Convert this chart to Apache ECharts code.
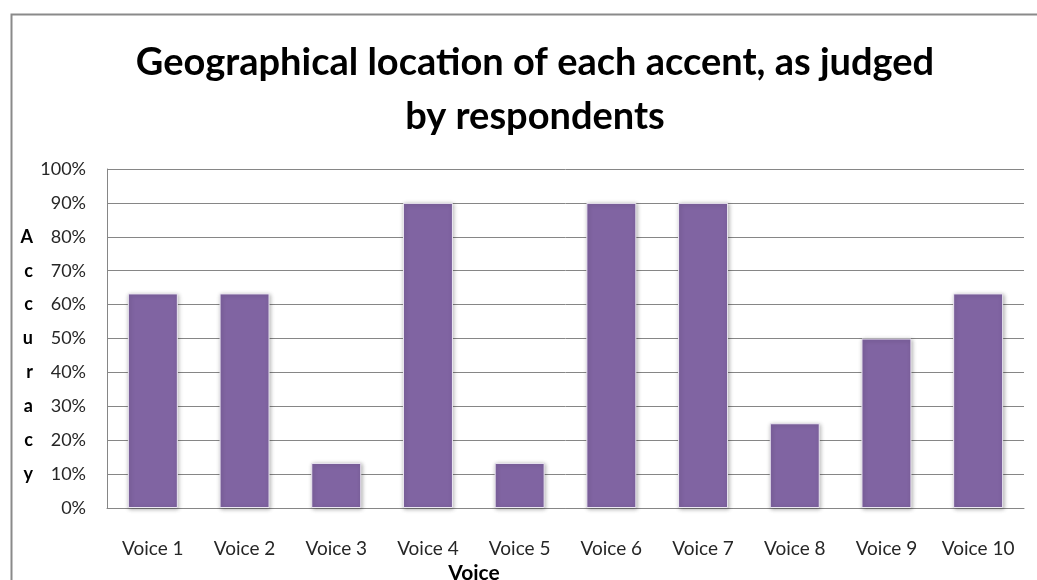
<!DOCTYPE html>
<html>
<head>
<meta charset="utf-8">
<script src="https://cdn.jsdelivr.net/npm/echarts@6/dist/echarts.min.js"></script>
<style>
  html, body { margin: 0; padding: 0; background: #fff; }
  #chart { width: 1037px; height: 580px; }
</style>
</head>
<body>
<div id="chart"></div>
<script>
  // values (share of correct answers)
  const voices = ['Voice 1', 'Voice 2', 'Voice 3', 'Voice 4', 'Voice 5', 'Voice 6', 'Voice 7', 'Voice 8', 'Voice 9', 'Voice 10']
  const accuracy = [0.633, 0.633, 0.133, 0.9, 0.133, 0.9, 0.9, 0.25, 0.5, 0.633]
  const titleText = 'Geographical location of each accent, as judged\nby respondents'

  const font = 'Lato, "Open Sans", sans-serif'
  const chart = echarts.init(document.getElementById('chart'), null, { renderer: 'canvas' })

  chart.setOption({
    backgroundColor: '#fff',
    animation: false,
    textStyle: { fontFamily: font },
    graphic: [{
      type: 'rect',
      shape: { x: 11.5, y: 14.5, width: 1100, height: 700 },
      style: { fill: 'none', stroke: '#8a8a8a', lineWidth: 2 },
      silent: true
    }],
    title: {
      text: titleText,
      left: 530,
      textAlign: 'center',
      top: 31,
      textStyle: {
        fontFamily: font,
        fontSize: 38,
        fontWeight: 'bold',
        color: '#000',
        lineHeight: 54
      }
    },
    grid: {
      left: 107,
      right: 13,
      top: 169,
      bottom: 72,
      outerBoundsMode: 'none'
    },
    xAxis: {
      type: 'category',
      data: voices,
      name: 'Voice',
      nameLocation: 'middle',
      nameGap: 54,
      // the title sits left of the middle in the original
      nameTextStyle: { fontFamily: font, fontSize: 21, fontWeight: 'bold', color: '#000', verticalAlign: 'top', padding: [0, 183, 0, 0] },
      axisLine: { lineStyle: { color: '#868686', width: 1 } },
      axisTick: { show: false },
      axisLabel: { interval: 0, fontFamily: font, fontSize: 19, color: '#262626', margin: 31 }
    },
    yAxis: {
      type: 'value',
      min: 0,
      max: 1,
      interval: 0.1,
      name: '\nA\nc\nc\nu\nr\na\nc\ny',
      nameLocation: 'middle',
      nameRotate: 0,
      nameGap: 74,
      nameTextStyle: { fontFamily: font, fontSize: 18, fontWeight: 'bold', color: '#000', lineHeight: 33.9 },
      axisLine: { show: true, lineStyle: { color: '#868686', width: 1 } },
      axisTick: { show: false },
      splitLine: { lineStyle: { color: '#868686', width: 1 } },
      axisLabel: {
        fontFamily: font,
        fontSize: 18,
        color: '#262626',
        margin: 21,
        formatter: v => Math.round(v * 100) + '%'
      }
    },
    series: [{
      type: 'bar',
      data: accuracy,
      barWidth: 50,
      itemStyle: {
        color: '#8064A2',
        borderColor: '#ece8f2',
        borderWidth: 1,
        shadowColor: 'rgba(0,0,0,0.3)',
        shadowBlur: 4,
        shadowOffsetX: 1,
        shadowOffsetY: 1
      }
    }]
  })
</script>
</body>
</html>
